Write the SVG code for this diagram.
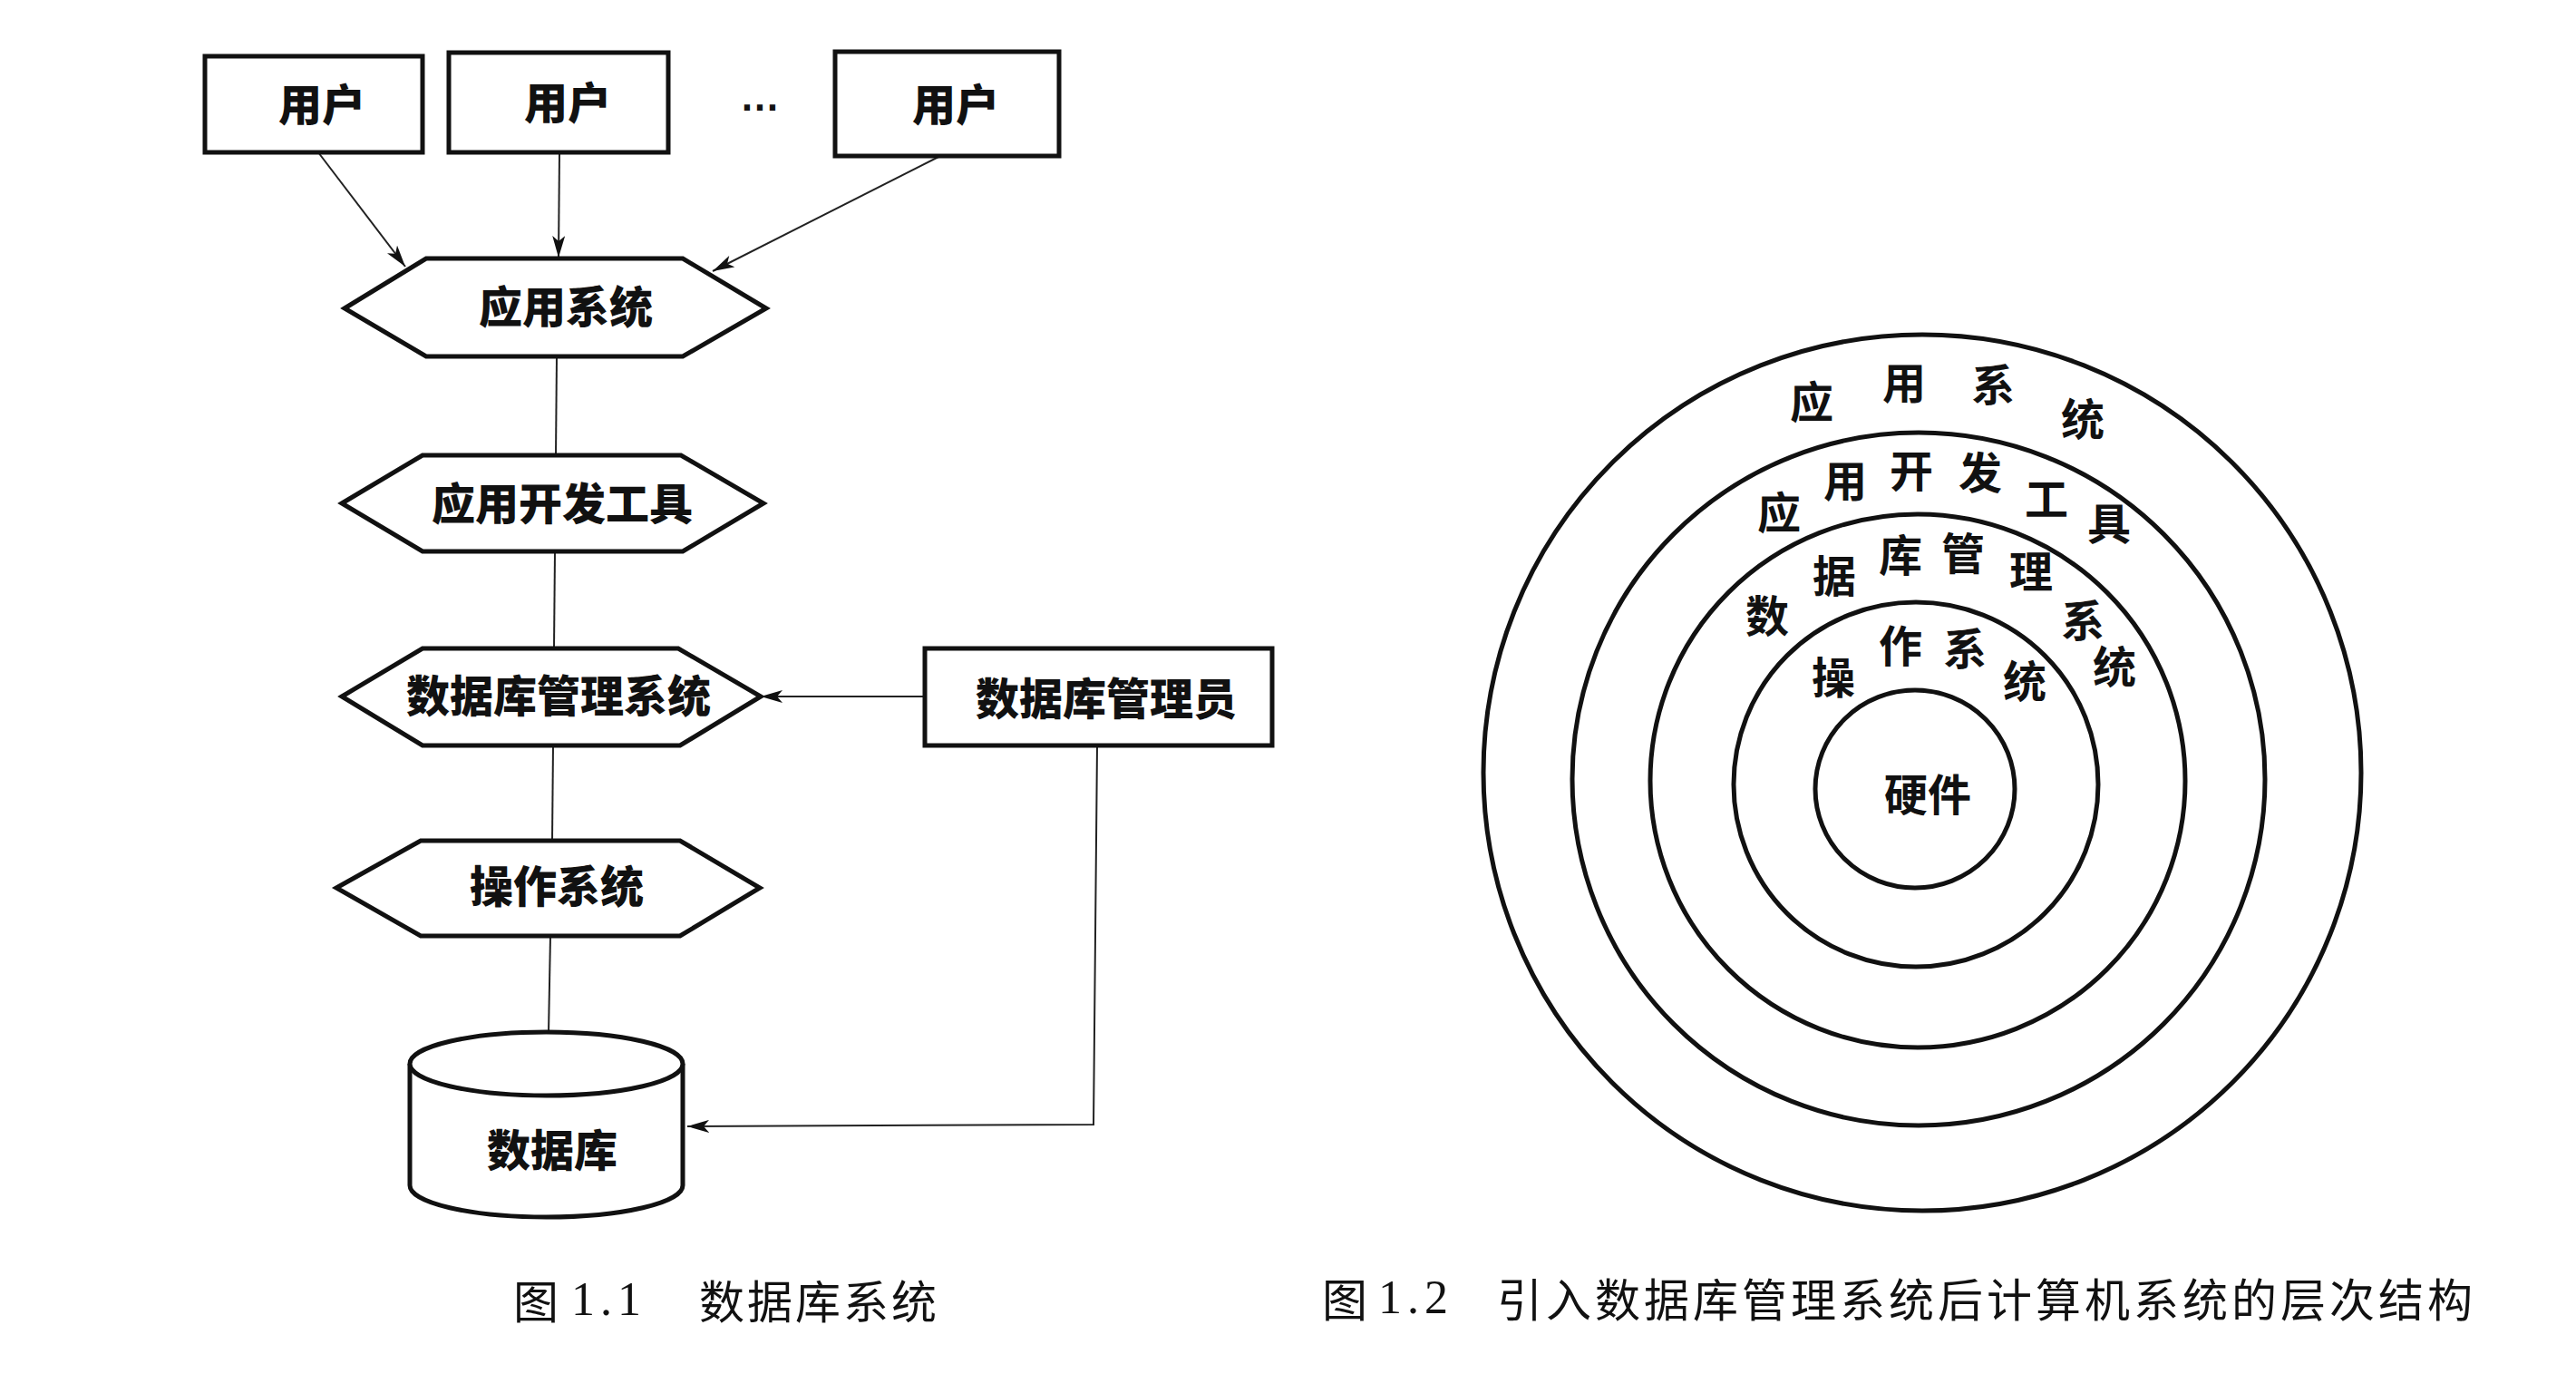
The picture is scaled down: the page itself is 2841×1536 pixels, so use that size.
<svg xmlns="http://www.w3.org/2000/svg" width="2841" height="1536" viewBox="0 0 2841 1536">
<style>
.box{fill:#fff;stroke:#111;stroke-width:5;stroke-linejoin:miter}
.ring{fill:none;stroke:#111;stroke-width:5}
.con{fill:none;stroke:#222;stroke-width:2}
.lbl{font-family:"Noto Sans CJK SC","Noto Sans",sans-serif;font-weight:900;font-size:48px;fill:#111;text-anchor:middle;dominant-baseline:central}
.rt{font-family:"Noto Sans CJK SC","Noto Sans",sans-serif;font-weight:700;font-size:48px;fill:#111;text-anchor:middle;dominant-baseline:central}
.cap{font-family:"Noto Sans CJK SC","Noto Sans",sans-serif;font-weight:400;font-size:50px;fill:#111;dominant-baseline:central}
.num{font-family:"Liberation Serif","Noto Sans CJK SC",serif;font-size:52px;letter-spacing:6px;fill:#111;dominant-baseline:central}
</style>
<defs>
<marker id="arr" markerUnits="userSpaceOnUse" markerWidth="26" markerHeight="14" refX="24" refY="7" orient="auto">
<path d="M0,0 L24,7 L0,14 L6,7 z" fill="#111"/>
</marker>
</defs>
<rect width="2841" height="1536" fill="#fff"/>

<g id="connectors">
<line class="con" x1="351" y1="168" x2="447" y2="294" marker-end="url(#arr)"/>
<line class="con" x1="617" y1="168" x2="616" y2="284" marker-end="url(#arr)"/>
<line class="con" x1="1037" y1="172" x2="786" y2="299" marker-end="url(#arr)"/>
<line class="con" x1="614" y1="393" x2="613" y2="502"/>
<line class="con" x1="612" y1="608" x2="611" y2="715"/>
<line class="con" x1="610" y1="822" x2="609" y2="927"/>
<line class="con" x1="607" y1="1032" x2="605" y2="1139"/>
<line class="con" x1="1020" y1="768" x2="839" y2="768" marker-end="url(#arr)"/>
<polyline class="con" points="1210,822 1206,1240 758,1242" marker-end="url(#arr)"/>
</g>

<g id="user1"><rect class="box" x="226" y="62" width="240" height="106"/><text class="lbl" x="355" y="112">用户</text></g>
<g id="user2"><rect class="box" x="495" y="58" width="242" height="110"/><text class="lbl" x="626" y="110">用户</text></g>
<g id="ellipsis"><text x="838" y="122" font-family="Liberation Sans,sans-serif" font-weight="700" font-size="44" text-anchor="middle" fill="#111">…</text></g>
<g id="user3"><rect class="box" x="921" y="57" width="247" height="115"/><text class="lbl" x="1054" y="112">用户</text></g>

<g id="app-system"><polygon class="box" points="380,340 470,285 753,285 845,340 753,393 470,393"/><text class="lbl" x="624" y="335">应用系统</text></g>
<g id="app-dev-tools"><polygon class="box" points="377,555 466,502 751,502 842,555 753,608 466,608"/><text class="lbl" x="620" y="552">应用开发工具</text></g>
<g id="dbms"><polygon class="box" points="377,768 466,715 748,715 839,768 750,822 466,822"/><text class="lbl" x="616" y="764">数据库管理系统</text></g>
<g id="dba"><rect class="box" x="1020" y="715" width="383" height="107"/><text class="lbl" x="1220" y="767">数据库管理员</text></g>
<g id="os"><polygon class="box" points="371,979 464,927 750,927 838,979 750,1032 464,1032"/><text class="lbl" x="614" y="974">操作系统</text></g>
<g id="database">
<path class="box" d="M452,1173 L452,1307 A150.5,35 0 0 0 753,1307 L753,1173"/>
<ellipse class="box" cx="602.5" cy="1173" rx="150.5" ry="35"/>
<text class="lbl" x="609" y="1265">数据库</text>
</g>

<g id="caption1">
<text class="cap" x="566" y="1432">图</text>
<text class="num" x="630" y="1432">1.1</text>
<text class="cap" x="771" y="1432" letter-spacing="3">数据库系统</text>
</g>

<g id="layers">
<ellipse class="ring" cx="2120" cy="852" rx="484" ry="483"/>
<ellipse class="ring" cx="2116" cy="859" rx="382" ry="382"/>
<ellipse class="ring" cx="2115" cy="861" rx="295" ry="294"/>
<ellipse class="ring" cx="2113" cy="865" rx="201" ry="201"/>
<ellipse class="ring" cx="2112" cy="870" rx="110" ry="109"/>
</g>
<g id="ring-app-system">
<text class="rt" x="1998" y="440">应</text><text class="rt" x="2100" y="419">用</text><text class="rt" x="2198" y="421">系</text><text class="rt" x="2297" y="459">统</text>
</g>
<g id="ring-app-dev-tools">
<text class="rt" x="1962" y="562">应</text><text class="rt" x="2035" y="527">用</text><text class="rt" x="2108" y="516">开</text><text class="rt" x="2184" y="518">发</text><text class="rt" x="2257" y="547">工</text><text class="rt" x="2326" y="574">具</text>
</g>
<g id="ring-dbms">
<text class="rt" x="1949" y="676">数</text><text class="rt" x="2023" y="632">据</text><text class="rt" x="2096" y="609">库</text><text class="rt" x="2165" y="607">管</text><text class="rt" x="2240" y="627">理</text><text class="rt" x="2297" y="681">系</text><text class="rt" x="2332" y="732">统</text>
</g>
<g id="ring-os">
<text class="rt" x="2022" y="744">操</text><text class="rt" x="2096" y="709">作</text><text class="rt" x="2167" y="712">系</text><text class="rt" x="2233" y="748">统</text>
</g>
<g id="hardware"><text class="rt" x="2126" y="873">硬件</text></g>

<g id="caption2">
<text class="cap" x="1458" y="1430">图</text>
<text class="num" x="1520" y="1430">1.2</text>
<text class="cap" x="1651" y="1430" letter-spacing="4">引入数据库管理系统后计算机系统的层次结构</text>
</g>
</svg>
